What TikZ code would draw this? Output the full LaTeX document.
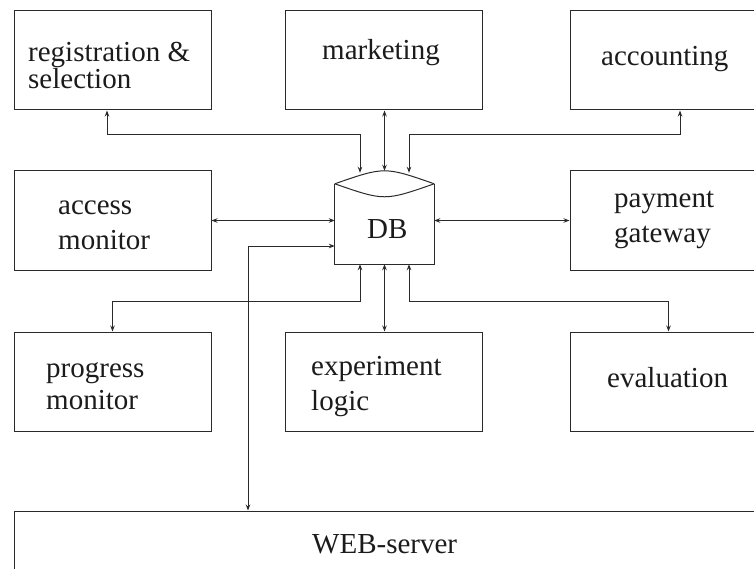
\documentclass[tikz,border=0pt]{standalone}
\usepackage{fontspec}
\setmainfont{Liberation Serif}
\usepackage{tikz}
\usetikzlibrary{positioning,arrows.meta,calc}
\definecolor{cInk}{HTML}{1B1B1B}
\definecolor{cLine}{HTML}{2A2A2A}
\tikzset{
  box/.style={draw=cLine, line width=1pt, minimum width=197pt,
              minimum height=99pt, inner sep=0pt},
  txt/.style={anchor=base west, inner sep=0pt, align=left, cInk,
              font=\fontsize{29}{35}\selectfont},
  dar/.style={{Stealth[length=6pt,width=4.5pt]}-{Stealth[length=6pt,width=4.5pt]},
              cLine, line width=1pt}
}
\begin{document}
\begin{tikzpicture}[x=1pt, y=-1pt]
\useasboundingbox (0,0) rectangle (754,569);
\clip (0,0) rectangle (754,569);
% boxes
\node[box] (reg) at (112.5,60.5) {};
\node[box] (mkt) at (383.5,60.5) {};
\node[box] (acc) at (668.5,60.5) {};
\node[box] (acm) at (112.5,220.5) {};
\node[box] (pay) at (668.5,220.5) {};
\node[box] (prg) at (112.5,381.5) {};
\node[box] (exp) at (383.5,381.5) {};
\node[box] (evl) at (668.5,381.5) {};
\node[box, minimum width=800pt, minimum height=100pt] (web) at (414,561) {};
% texts (base = last line)
\node[txt, font=\fontsize{29}{26}\selectfont] (regT) at (28,89) {registration \&\\selection};
\node[txt] (mktT) at (322,60) {marketing};
\node[txt] (accT) at (601,66) {accounting};
\node[txt] (acmT) at (58,249) {access\\monitor};
\node[txt] (payT) at (614,243) {payment\\gateway};
\node[txt, font=\fontsize{29}{32}\selectfont] (prgT) at (46,409) {progress\\monitor};
\node[txt] (expT) at (311,410) {experiment\\logic};
\node[txt] (evlT) at (607,387) {evaluation};
\node[txt] (webT) at (312,553) {WEB-server};
% database drum
\node[minimum width=99pt, minimum height=93pt, inner sep=0pt] (db) at (384.5,217.5) {};
\coordinate (dbl) at ([yshift=-13pt]db.north west);
\coordinate (dbr) at ([yshift=-13pt]db.north east);
\draw[cLine, line width=1pt] (dbl) -- (db.south west) -- (db.south east) -- (dbr);
\draw[cLine, line width=1pt] (dbl) .. controls ([yshift=4.3pt]db.north) .. (dbr);
\draw[cLine, line width=1pt] (dbl) .. controls ([yshift=-30.3pt]db.north) .. (dbr);
\node[txt] (dbT) at (367,239) {DB};
% connectors to the DB
\draw[dar] ([xshift=-5.5pt]reg.south) -- ++(0,24) -| ([xshift=-24.5pt,yshift=-2pt]db.north);
\draw[dar] (db.north) -- (db.north |- mkt.south);
\draw[dar] ([xshift=11.5pt]acc.south) -- ++(0,24) -| ([xshift=24.5pt,yshift=-2pt]db.north);
\draw[dar] (acm.east) -- (acm.east -| db.west);
\draw[dar] (pay.west) -- (pay.west -| db.east);
\draw[dar] ([xshift=-166pt]web.north) |- ([yshift=-28.5pt]db.west);
\draw[dar] ([xshift=-24.5pt]db.south) -- ++(0,37) -| (prg.north);
\draw[dar] (db.south) -- (db.south |- exp.north);
\draw[dar] ([xshift=24.5pt]db.south) -- ++(0,37) -| (evl.north);
\end{tikzpicture}
\end{document}
